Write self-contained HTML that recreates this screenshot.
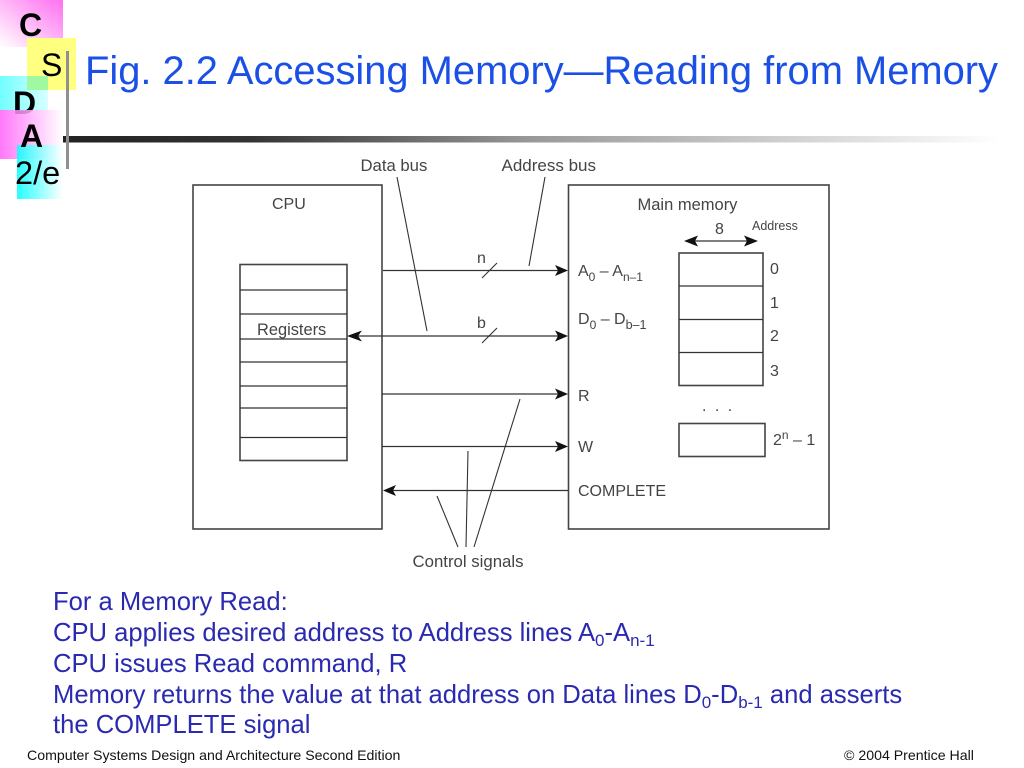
<!DOCTYPE html>
<html><head><meta charset="utf-8"><style>
html,body{margin:0;padding:0;background:#fff}
svg{display:block}
text{font-family:"Liberation Sans",sans-serif}
.d{fill:#444;font-size:16px}
.b{fill:#2a2ab0;font-size:25.6px}
.l{stroke:#333;stroke-width:1.3;fill:none}
.t{stroke:#333;stroke-width:1.1;fill:none}
.k{stroke:#444;stroke-width:1.6;fill:#fff}
.f{fill:#111}
</style></head><body>
<svg width="1024" height="768" viewBox="0 0 1024 768" xmlns="http://www.w3.org/2000/svg">
<defs>
<linearGradient id="gC" x1="0" y1="1" x2="1" y2="0"><stop offset="0" stop-color="#fff"/><stop offset="1" stop-color="#ff70f0"/></linearGradient>
<linearGradient id="gD" x1="0" y1="0" x2="1" y2="0"><stop offset="0" stop-color="#70ffff"/><stop offset="1" stop-color="#d8ffff"/></linearGradient>
<linearGradient id="gA" x1="0" y1="0" x2="1" y2="0"><stop offset="0" stop-color="#ff60f8"/><stop offset="1" stop-color="#fff"/></linearGradient>
<linearGradient id="gE" x1="0" y1="0" x2="1" y2="0"><stop offset="0" stop-color="#10ffff"/><stop offset="1" stop-color="#fff"/></linearGradient>
<linearGradient id="gL" x1="0" y1="0" x2="1" y2="0"><stop offset="0" stop-color="#222"/><stop offset="0.2" stop-color="#333"/><stop offset="0.5" stop-color="#999"/><stop offset="1" stop-color="#fff"/></linearGradient>
</defs>
<rect width="1024" height="768" fill="#fff"/>
<rect x="0" y="0" width="63" height="47" fill="url(#gC)"/>
<rect x="27" y="38" width="49" height="52" fill="#ffff80"/>
<rect x="0" y="76" width="48" height="34" fill="url(#gD)"/>
<rect x="27" y="76" width="21" height="14" fill="#a0f8a0"/>
<text x="13" y="114" font-size="32" font-weight="bold" fill="#000">D</text>
<rect x="0" y="110" width="63" height="49" fill="url(#gA)" opacity="0.85"/>
<rect x="17" y="145" width="46" height="54" fill="url(#gE)" opacity="0.9"/>
<rect x="63" y="136" width="937" height="6.500" fill="url(#gL)"/>
<rect x="66" y="51" width="3" height="118" fill="#909090"/>
<text x="19" y="36" font-size="32" font-weight="bold" fill="#000">C</text>
<text x="41" y="76" font-size="32" fill="#000">S</text>
<text x="20" y="147" font-size="32" font-weight="bold" fill="#000">A</text>
<text x="15" y="184" font-size="32.500" fill="#000">2/e</text>
<text x="85" y="84" font-size="40" fill="#1a50e6" textLength="913" lengthAdjust="spacingAndGlyphs">Fig. 2.2 Accessing Memory—Reading from Memory</text>

<rect class="k" x="193" y="185" width="189" height="344"/>
<rect class="k" x="568.500" y="185" width="260.500" height="344"/>
<rect class="k" x="240" y="264.500" width="107" height="196"/>
<path class="l" d="M240 290H347M240 314H347M240 339H347M240 362H347M240 386H347M240 408H347M240 437.500H347"/>
<text class="d" x="257" y="335" font-size="16.400" style="font-size:16.400px">Registers</text>
<text class="d" x="272" y="209">CPU</text>
<text class="d" x="360.500" y="171" style="font-size:16.700px">Data bus</text>
<text class="d" x="501.500" y="171" style="font-size:17px">Address bus</text>
<text class="d" x="412.500" y="567" style="font-size:16.800px">Control signals</text>
<text class="d" x="637.500" y="210" style="font-size:16.500px">Main memory</text>
<text class="d" x="715" y="234">8</text>
<text x="752" y="230" font-size="12.500" fill="#444">Address</text>

<path class="l" d="M383 270.500H560M354 336H560M382 394H560M382 446.500H560M392 490.500H568"/>
<path class="f" d="M568 270.500L555 265L558 270.500L555 276ZM568 336L555 330.500L558 336L555 341.500ZM568 394L555 388.500L558 394L555 399.500ZM568 446.500L555 441L558 446.500L555 452ZM347 336L362 330.500L358 336L362 341.500ZM383 490.500L396 485L393 490.500L396 496Z"/>
<path class="t" d="M397 177L427 331M545 177L529 266M482 278L497 263M482 343L497 328M520 399L474 547M468 451L466 547M437 496L458 547"/>
<text class="d" x="477" y="263">n</text>
<text class="d" x="477" y="328">b</text>

<text class="d" x="578" y="276">A<tspan font-size="12" style="font-size:12px" dy="5">0</tspan><tspan dy="-5"> – A</tspan><tspan style="font-size:12px" dy="5">n–1</tspan></text>
<text class="d" x="578" y="324">D<tspan style="font-size:12px" dy="5">0</tspan><tspan dy="-5"> – D</tspan><tspan style="font-size:12.500px" dy="5">b–1</tspan></text>
<text class="d" x="578" y="401">R</text>
<text class="d" x="578" y="452">W</text>
<text class="d" x="578" y="496">COMPLETE</text>

<path class="l" d="M690 241H750"/>
<path class="f" d="M684 241L698 235.500L695 241L698 246.500ZM758 241L744 235.500L747 241L744 246.500Z"/>
<rect class="k" x="679" y="253" width="84" height="132.500"/>
<path class="l" d="M679 286H763M679 319.500H763M679 352.500H763"/>
<rect class="k" x="679" y="423.500" width="86" height="33"/>
<text class="d" x="770" y="274">0</text>
<text class="d" x="770" y="308">1</text>
<text class="d" x="770" y="341">2</text>
<text class="d" x="770" y="376">3</text>
<text class="d" x="702" y="411" letter-spacing="2">. . .</text>
<text class="d" x="773" y="445">2<tspan style="font-size:12px" dy="-6">n</tspan><tspan dy="6"> – 1</tspan></text>

<text class="b" x="53" y="610">For a Memory Read:</text>
<text class="b" x="53" y="641">CPU applies desired address to Address lines A<tspan style="font-size:17px" dy="5">0</tspan><tspan dy="-5">-A</tspan><tspan style="font-size:17px" dy="5">n-1</tspan></text>
<text class="b" x="53" y="672">CPU issues Read command, R</text>
<text class="b" x="53" y="703">Memory returns the value at that address on Data lines D<tspan style="font-size:17px" dy="5">0</tspan><tspan dy="-5">-D</tspan><tspan style="font-size:17px" dy="5">b-1</tspan><tspan dy="-5"> and asserts</tspan></text>
<text class="b" x="53" y="733">the COMPLETE signal</text>
<text x="27" y="760" font-size="14.150" fill="#111">Computer Systems Design and Architecture Second Edition</text>
<text x="844" y="760" font-size="14.150" fill="#111">© 2004 Prentice Hall</text>
</svg>
</body></html>
